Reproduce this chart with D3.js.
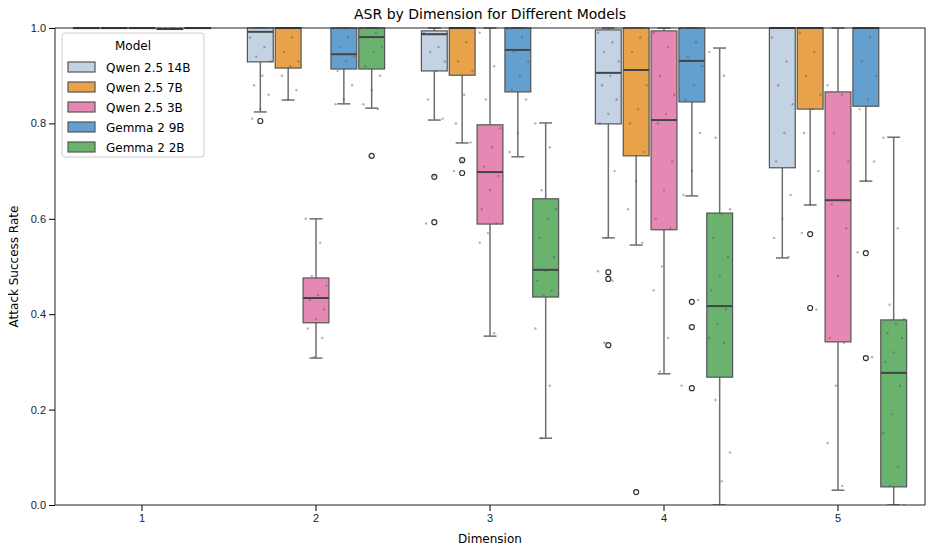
<!DOCTYPE html>
<html><head><meta charset="utf-8">
<script src="https://cdn.jsdelivr.net/npm/d3@7"></script>
<style>body{margin:0;background:#fff;font-family:"DejaVu Sans",sans-serif}</style>
</head><body><svg id="c" width="932" height="550"></svg>
<script>
const dimensions = ["1","2","3","4","5"];
const models = ["Qwen 2.5 14B","Qwen 2.5 7B","Qwen 2.5 3B","Gemma 2 9B","Gemma 2 2B"];
const colors = ["#c3d3e3","#e8a24a","#e589b4","#63a0d0","#6ab36e"];
const yTicks = [0,0.2,0.4,0.6,0.8,1.0];
// [whiskerLow, q1, median, q3, whiskerHigh] per model, per dimension
const stats14B = [[1,1,1,1,1],[0.824,0.929,0.992,1,1],[0.807,0.910,0.987,0.994,1],[0.560,0.799,0.906,0.996,1],[0.518,0.707,1,1,1]];
const stats7B  = [[1,1,1,1,1],[0.849,0.916,1,1,1],[0.759,0.901,1,1,1],[0.545,0.732,0.912,1,1],[0.629,0.830,1,1,1]];
const stats3B  = [[1,1,1,1,1],[0.308,0.382,0.434,0.476,0.600],[0.354,0.589,0.698,0.797,1],[0.275,0.577,0.807,0.994,1],[0.031,0.342,0.639,0.866,1]];
const stats9B  = [[0.998,0.998,0.998,0.998,0.998],[0.841,0.914,0.945,1,1],[0.730,0.866,0.954,1,1],[0.648,0.845,0.931,1,1],[0.679,0.836,1,1,1]];
const stats2B  = [[1,1,1,1,1],[0.832,0.914,0.981,1,1],[0.140,0.436,0.493,0.642,0.801],[0,0.268,0.417,0.612,0.958],[0,0.038,0.277,0.388,0.771]];
const outliers14B = [[],[0.805],[0.688,0.593],[0.488,0.474,0.335],[]];
const outliers7B  = [[],[],[0.723,0.696],[0.027],[0.568,0.413]];
const outliers3B  = [[],[],[],[],[]];
const outliers9B  = [[],[],[],[0.426,0.373,0.245],[0.528,0.308]];
const outliers2B  = [[],[0.732],[],[],[]];
// observed points (approximate)
const points14B = [[1,1,1,1,1,1],[0.98,0.96,0.94,0.93,0.90,0.88,0.86,0.83,0.81],[0.99,0.96,0.95,0.93,0.91,0.85,0.81,0.69,0.59],[0.99,0.97,0.95,0.93,0.90,0.88,0.85,0.82,0.80,0.70,0.56,0.49,0.47,0.34],[0.98,0.93,0.88,0.84,0.78,0.72,0.65,0.60,0.56,0.52]];
const points7B  = [[1,1,1,1,1,1],[1,0.98,0.95,0.93,0.92,0.90,0.87,0.85],[1,0.97,0.93,0.91,0.86,0.80,0.76,0.72,0.70],[1,0.98,0.95,0.88,0.83,0.80,0.74,0.68,0.62,0.55,0.03],[0.99,0.95,0.90,0.86,0.83,0.78,0.70,0.63,0.57,0.41]];
const points3B  = [[1,1,1,1,1,1],[0.60,0.55,0.48,0.46,0.44,0.43,0.41,0.39,0.37,0.35,0.31],[0.99,0.92,0.85,0.79,0.75,0.71,0.69,0.66,0.62,0.59,0.57,0.55,0.36],[0.99,0.96,0.90,0.86,0.82,0.80,0.72,0.66,0.60,0.58,0.50,0.45,0.35,0.28],[0.88,0.86,0.78,0.72,0.64,0.63,0.58,0.48,0.35,0.34,0.25,0.13,0.04]];
const points9B  = [[1,1,1,1,1],[1,0.98,0.96,0.94,0.93,0.91,0.88,0.85,0.84],[1,0.98,0.95,0.93,0.90,0.87,0.85,0.78,0.74],[1,0.97,0.94,0.92,0.88,0.85,0.78,0.70,0.65,0.43,0.37,0.25],[1,0.98,0.93,0.90,0.85,0.83,0.72,0.68,0.53,0.31]];
const points2B  = [[1,1,1,1,1],[1,0.99,0.98,0.96,0.95,0.92,0.90,0.87,0.84,0.83,0.73],[0.80,0.75,0.66,0.62,0.60,0.56,0.52,0.49,0.47,0.45,0.44,0.37,0.25,0.14],[0.95,0.90,0.77,0.62,0.61,0.56,0.52,0.48,0.45,0.41,0.38,0.35,0.34,0.22,0.11,0.05,0],[0.77,0.58,0.42,0.39,0.38,0.36,0.35,0.32,0.30,0.25,0.19,0.15,0.08,0.04,0,0]];
const allStats=[stats14B,stats7B,stats3B,stats9B,stats2B];
const allOut=[outliers14B,outliers7B,outliers3B,outliers9B,outliers2B];
const allPts=[points14B,points7B,points3B,points9B,points2B];

const svg=d3.select("#c");
const m={l:55,r:7,t:28,b:45};
const W=932,H=550;
const x=d3.scaleBand().domain(dimensions).range([m.l,W-m.r]).paddingInner(0.2).paddingOuter(0.1);
const xm=d3.scaleBand().domain(models).range([0,x.bandwidth()]);
const y=d3.scaleLinear().domain([0,1]).range([H-m.b,m.t]);
const gx=svg.append("g").attr("transform",`translate(0,${H-m.b})`).call(d3.axisBottom(x).tickSizeOuter(0));
const gy=svg.append("g").attr("transform",`translate(${m.l},0)`).call(d3.axisLeft(y).tickValues(yTicks).tickFormat(d3.format(".1f")).tickSizeOuter(0));
[gx,gy].forEach(g=>{g.selectAll("text").attr("font-size",11).attr("fill","#222");g.select(".domain").remove();});
const clip=svg.append("clipPath").attr("id","cp").append("rect").attr("x",m.l).attr("y",m.t-1).attr("width",W-m.l-m.r).attr("height",H-m.t-m.b+1);
const plot=svg.append("g").attr("clip-path","url(#cp)");
models.forEach((mod,mi)=>{
  dimensions.forEach((d,di)=>{
    const [lo,q1,md,q3,hi]=allStats[mi][di];
    const x0=x(d)+xm(mod)+1, bw=xm.bandwidth()-2, cx=x0+bw/2;
    const g=plot.append("g");
    g.append("line").attr("x1",cx).attr("x2",cx).attr("y1",y(hi)).attr("y2",y(q3)).attr("stroke","#6e6e6e").attr("stroke-width",1.5);
    g.append("line").attr("x1",cx).attr("x2",cx).attr("y1",y(q1)).attr("y2",y(lo)).attr("stroke","#6e6e6e").attr("stroke-width",1.5);
    [lo,hi].forEach(v=>g.append("line").attr("x1",cx-bw/4).attr("x2",cx+bw/4).attr("y1",y(v)).attr("y2",y(v)).attr("stroke","#6e6e6e").attr("stroke-width",1.5));
    g.append("rect").attr("x",x0).attr("y",y(q3)).attr("width",bw).attr("height",Math.max(0.5,y(q1)-y(q3))).attr("fill",colors[mi]).attr("stroke","#555").attr("stroke-width",1.2);
    g.append("line").attr("x1",x0).attr("x2",x0+bw).attr("y1",y(md)).attr("y2",y(md)).attr("stroke","#444").attr("stroke-width",2);
    allOut[mi][di].forEach(v=>g.append("circle").attr("cx",cx).attr("cy",y(v)).attr("r",2.5).attr("fill","none").attr("stroke","#333").attr("stroke-width",1.2));
    allPts[mi][di].forEach((v,k)=>{
      const off=((k*7)%11-5)/5*bw*0.4;
      g.append("circle").attr("cx",cx+off).attr("cy",y(v)).attr("r",1.2).attr("fill","#555").attr("opacity",0.45);
    });
  });
});
svg.append("rect").attr("x",m.l).attr("y",m.t).attr("width",W-m.l-m.r).attr("height",H-m.t-m.b).attr("fill","none").attr("stroke","#222").attr("stroke-width",1);
svg.append("text").attr("x",(m.l+W-m.r)/2).attr("y",19).attr("text-anchor","middle").attr("font-size",14).text("ASR by Dimension for Different Models");
svg.append("text").attr("x",(m.l+W-m.r)/2).attr("y",543).attr("text-anchor","middle").attr("font-size",12).text("Dimension");
svg.append("text").attr("transform",`translate(18,${(m.t+H-m.b)/2}) rotate(-90)`).attr("text-anchor","middle").attr("font-size",12).text("Attack Success Rate");
const lg=svg.append("g").attr("transform","translate(62,33)");
lg.append("rect").attr("width",142).attr("height",124).attr("rx",3).attr("fill","#fff").attr("fill-opacity",0.85).attr("stroke","#ccc");
lg.append("text").attr("x",71).attr("y",17).attr("text-anchor","middle").attr("font-size",12).text("Model");
models.forEach((mod,i)=>{
  const yy=29+i*20;
  lg.append("rect").attr("x",6).attr("y",yy).attr("width",27).attr("height",10).attr("fill",colors[i]).attr("stroke","#555").attr("stroke-width",1.2);
  lg.append("text").attr("x",44).attr("y",yy+9.5).attr("font-size",12).text(mod);
});
</script></body></html>
